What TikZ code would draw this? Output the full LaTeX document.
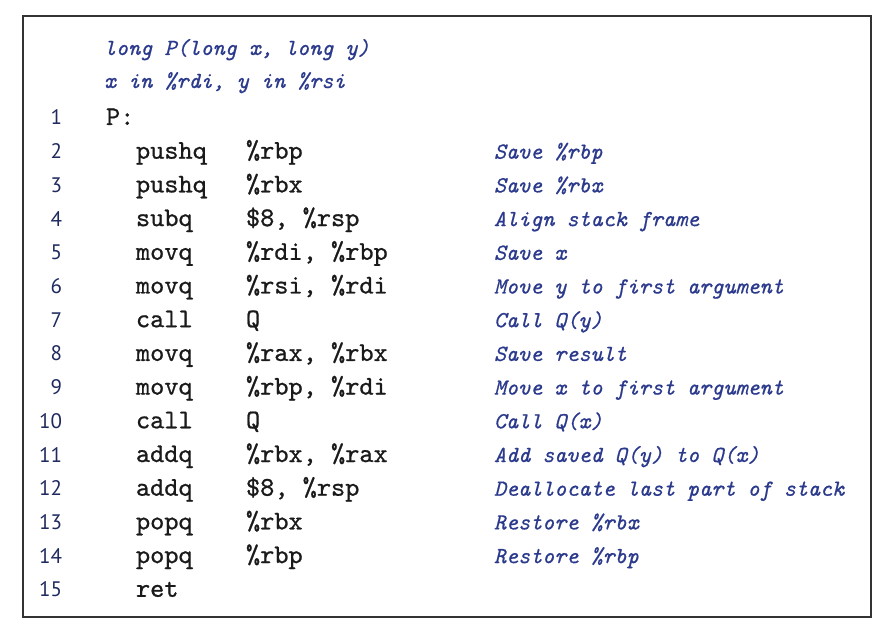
\documentclass[tikz,border=0pt]{standalone}
\usepackage{fontspec}
\newfontfamily\codefont{lmmono10-regular.otf}[FakeBold=0.8]
\newfontfamily\cmtfont{lmmono10-italic.otf}[FakeBold=0.6]
\newfontfamily\numfont{PT Sans}
\definecolor{cmt}{HTML}{2B3A8C}
\definecolor{lnum}{HTML}{1F2A5E}
\definecolor{code}{HTML}{1A1A1A}
\definecolor{frame}{HTML}{333333}
\begin{document}
\begin{tikzpicture}[x=1pt,y=-1pt,
  every node/.style={inner sep=0pt,outer sep=0pt},
  codetxt/.style={anchor=base west,text=code,font=\fontsize{27}{27}\selectfont\codefont},
  cmttxt/.style={anchor=base west,text=cmt,font=\fontsize{23}{23}\selectfont\cmtfont},
  numtxt/.style={anchor=base east,text=lnum,font=\fontsize{21}{21}\selectfont\numfont}]
\useasboundingbox (0,0) rectangle (894,628);
\fill[white] (0,0) rectangle (894,628);
\draw[frame,line width=2pt] (23,16) rectangle (871,617);
% header
\node[cmttxt] (h1) at (104,55) {long P(long x, long y)};
\node[cmttxt] (h2) at (104,88) {x in \%rdi, y in \%rsi};
% line numbers
\foreach \k in {1,...,15}{
  \node[numtxt] (n\k) at (62,{125+(\k-1)*33.7}) {\k};
}
% code
\node[codetxt] (p1) at (106,125) {P:};
\node[codetxt] (i2) at (136,158.7) {pushq};  \node[codetxt] (o2) at (246,158.7) {\%rbp};  \node[cmttxt] (c2) at (494,158.7) {Save \%rbp};
\node[codetxt] (i3) at (136,192.4) {pushq};  \node[codetxt] (o3) at (246,192.4) {\%rbx};  \node[cmttxt] (c3) at (494,192.4) {Save \%rbx};
\node[codetxt] (i4) at (136,226.1) {subq};   \node[codetxt] (o4) at (246,226.1) {\$8, \%rsp};  \node[cmttxt] (c4) at (494,226.1) {Align stack frame};
\node[codetxt] (i5) at (136,259.8) {movq};   \node[codetxt] (o5) at (246,259.8) {\%rdi, \%rbp};  \node[cmttxt] (c5) at (494,259.8) {Save x};
\node[codetxt] (i6) at (136,293.5) {movq};   \node[codetxt] (o6) at (246,293.5) {\%rsi, \%rdi};  \node[cmttxt] (c6) at (494,293.5) {Move y to first argument};
\node[codetxt] (i7) at (136,327.2) {call};   \node[codetxt] (o7) at (246,327.2) {Q};  \node[cmttxt] (c7) at (494,327.2) {Call Q(y)};
\node[codetxt] (i8) at (136,360.9) {movq};   \node[codetxt] (o8) at (246,360.9) {\%rax, \%rbx};  \node[cmttxt] (c8) at (494,360.9) {Save result};
\node[codetxt] (i9) at (136,394.6) {movq};   \node[codetxt] (o9) at (246,394.6) {\%rbp, \%rdi};  \node[cmttxt] (c9) at (494,394.6) {Move x to first argument};
\node[codetxt] (i10) at (136,428.3) {call};  \node[codetxt] (o10) at (246,428.3) {Q};  \node[cmttxt] (c10) at (494,428.3) {Call Q(x)};
\node[codetxt] (i11) at (136,462.0) {addq};  \node[codetxt] (o11) at (246,462.0) {\%rbx, \%rax};  \node[cmttxt] (c11) at (494,462.0) {Add saved Q(y) to Q(x)};
\node[codetxt] (i12) at (136,495.7) {addq};  \node[codetxt] (o12) at (246,495.7) {\$8, \%rsp};  \node[cmttxt] (c12) at (494,495.7) {Deallocate last part of stack};
\node[codetxt] (i13) at (136,529.4) {popq};  \node[codetxt] (o13) at (246,529.4) {\%rbx};  \node[cmttxt] (c13) at (494,529.4) {Restore \%rbx};
\node[codetxt] (i14) at (136,563.1) {popq};  \node[codetxt] (o14) at (246,563.1) {\%rbp};  \node[cmttxt] (c14) at (494,563.1) {Restore \%rbp};
\node[codetxt] (i15) at (136,596.8) {ret};
\end{tikzpicture}
\end{document}
